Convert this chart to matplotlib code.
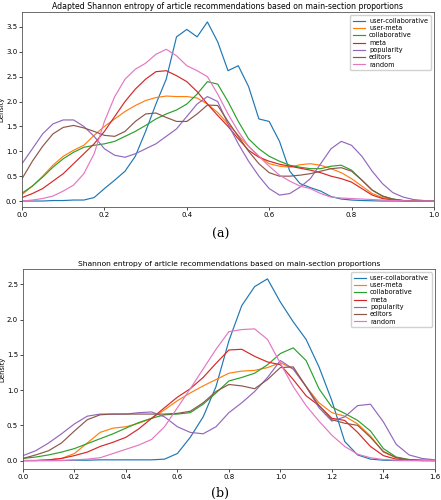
import matplotlib
matplotlib.use("Agg")
import matplotlib.pyplot as plt
import numpy as np

labels = ["user-collaborative", "user-meta", "collaborative", "meta",
          "popularity", "editors", "random"]
colors = ["#1f77b4", "#ff7f0e", "#2ca02c", "#d62728", "#9467bd", "#8c564b", "#e377c2"]

# (a) adapted entropy, x grid step 0.025
x_a = np.round(np.arange(0, 1.0001, 0.025), 3)
user_collab_a = [0.0, 0.0, 0.0, 0.01, 0.01, 0.02, 0.02, 0.07, 0.25, 0.42, 0.6, 0.9, 1.4, 1.95,
                 2.45, 3.3, 3.45, 3.3, 3.6, 3.2, 2.62, 2.72, 2.3, 1.65, 1.6, 1.2, 0.6, 0.35,
                 0.27, 0.2, 0.09, 0.04, 0.02, 0.01, 0.005, 0, 0, 0, 0, 0, 0]
user_meta_a = [0.13, 0.3, 0.5, 0.72, 0.9, 1.02, 1.12, 1.32, 1.5, 1.65, 1.8, 1.92, 2.02, 2.08,
               2.11, 2.1, 2.1, 2.07, 1.95, 1.78, 1.55, 1.32, 1.1, 0.9, 0.75, 0.7, 0.68, 0.73,
               0.75, 0.72, 0.65, 0.57, 0.45, 0.3, 0.15, 0.07, 0.03, 0.01, 0, 0, 0]
collab_a = [0.16, 0.3, 0.48, 0.68, 0.85, 0.98, 1.08, 1.12, 1.15, 1.2, 1.3, 1.4, 1.52, 1.65,
            1.75, 1.83, 1.95, 2.15, 2.4, 2.35, 2.0, 1.6, 1.25, 1.05, 0.9, 0.8, 0.72, 0.68,
            0.65, 0.65, 0.7, 0.72, 0.62, 0.42, 0.22, 0.1, 0.04, 0.01, 0, 0, 0]
meta_a = [0.07, 0.15, 0.25, 0.4, 0.55, 0.75, 0.95, 1.15, 1.4, 1.7, 2.0, 2.25, 2.45, 2.6,
          2.62, 2.52, 2.4, 2.2, 1.95, 1.72, 1.5, 1.25, 1.02, 0.88, 0.8, 0.74, 0.7, 0.66,
          0.62, 0.57, 0.5, 0.45, 0.38, 0.25, 0.12, 0.05, 0.02, 0.005, 0, 0, 0]
popularity_a = [0.75, 1.05, 1.35, 1.55, 1.63, 1.63, 1.5, 1.3, 1.05, 0.92, 0.88, 0.95, 1.05, 1.15,
                1.3, 1.45, 1.7, 1.95, 2.1, 2.0, 1.55, 1.15, 0.8, 0.5, 0.25, 0.12, 0.15, 0.28,
                0.45, 0.75, 1.05, 1.2, 1.12, 0.9, 0.6, 0.35, 0.17, 0.08, 0.03, 0.01, 0.0]
editors_a = [0.45, 0.8, 1.1, 1.35, 1.48, 1.52, 1.47, 1.4, 1.32, 1.3, 1.4, 1.6, 1.75, 1.77,
             1.68, 1.6, 1.6, 1.75, 1.93, 1.92, 1.6, 1.3, 1.0, 0.75, 0.57, 0.5, 0.5, 0.52,
             0.55, 0.6, 0.65, 0.67, 0.6, 0.42, 0.22, 0.1, 0.04, 0.01, 0, 0, 0]
random_a = [0.0, 0.02, 0.05, 0.1, 0.2, 0.32, 0.55, 0.95, 1.6, 2.1, 2.45, 2.65, 2.77, 2.95,
            3.05, 2.92, 2.72, 2.62, 2.5, 2.15, 1.75, 1.4, 1.1, 0.9, 0.7, 0.52, 0.4, 0.3,
            0.25, 0.15, 0.08, 0.06, 0.05, 0.04, 0.03, 0.02, 0.01, 0.005, 0, 0, 0]

# (b) plain entropy, x grid step 0.05
x_b = np.round(np.arange(0, 1.6001, 0.05), 3)
user_collab_b = [0, 0, 0, 0, 0.005, 0.005, 0.01, 0.01, 0.01, 0.01, 0.01, 0.02, 0.1, 0.33,
                 0.62, 1.05, 1.7, 2.2, 2.47, 2.58, 2.25, 1.97, 1.72, 1.33, 0.85, 0.27, 0.08,
                 0.02, 0.005, 0, 0, 0, 0]
user_meta_b = [0.0, 0.0, 0.01, 0.03, 0.1, 0.25, 0.4, 0.46, 0.48, 0.53, 0.6, 0.72, 0.85, 0.96,
               1.06, 1.15, 1.24, 1.27, 1.28, 1.32, 1.39, 1.3, 1.05, 0.82, 0.68, 0.63, 0.52,
               0.35, 0.12, 0.04, 0.01, 0.005, 0]
collab_b = [0.03, 0.05, 0.08, 0.12, 0.17, 0.24, 0.31, 0.38, 0.46, 0.54, 0.6, 0.65, 0.66, 0.68,
            0.8, 0.96, 1.13, 1.18, 1.24, 1.36, 1.52, 1.6, 1.42, 1.02, 0.76, 0.67, 0.57, 0.42,
            0.17, 0.05, 0.015, 0.005, 0]
meta_b = [0.0, 0.0, 0.01, 0.03, 0.07, 0.12, 0.2, 0.26, 0.33, 0.45, 0.6, 0.75, 0.9, 1.02,
          1.18, 1.38, 1.57, 1.58, 1.48, 1.4, 1.36, 1.15, 0.92, 0.78, 0.6, 0.57, 0.4, 0.2,
          0.07, 0.02, 0.005, 0, 0]
popularity_b = [0.07, 0.14, 0.25, 0.38, 0.52, 0.63, 0.66, 0.66, 0.66, 0.68, 0.69, 0.62, 0.48,
                0.4, 0.38, 0.48, 0.68, 0.82, 0.98, 1.18, 1.42, 1.3, 1.05, 0.75, 0.56, 0.62,
                0.78, 0.8, 0.55, 0.23, 0.08, 0.03, 0.01]
editors_b = [0.03, 0.08, 0.14, 0.25, 0.42, 0.58, 0.65, 0.66, 0.66, 0.66, 0.66, 0.66, 0.67,
             0.7, 0.82, 0.98, 1.08, 1.06, 1.02, 1.15, 1.32, 1.33, 1.05, 0.78, 0.58, 0.53,
             0.5, 0.33, 0.13, 0.04, 0.01, 0, 0]
random_b = [0, 0, 0, 0, 0.01, 0.02, 0.04, 0.1, 0.16, 0.22, 0.3, 0.48, 0.75, 1.02, 1.3, 1.58,
            1.83, 1.86, 1.87, 1.72, 1.38, 1.05, 0.78, 0.56, 0.36, 0.2, 0.09, 0.04, 0.015,
            0.005, 0, 0, 0]

series_a = [user_collab_a, user_meta_a, collab_a, meta_a, popularity_a, editors_a, random_a]
series_b = [user_collab_b, user_meta_b, collab_b, meta_b, popularity_b, editors_b, random_b]


def draw(ax, x, series, title, xmax, ymax, yticks, title_size):
    for y, lab, c in zip(series, labels, colors):
        ax.plot(x, y, color=c, lw=0.85, label=lab)
    ax.set_xlim(0, xmax)
    ax.set_ylim(-0.12, ymax)
    ax.set_xticks(np.arange(0, xmax + 0.001, 0.2))
    ax.set_yticks(yticks)
    ax.xaxis.set_major_formatter(matplotlib.ticker.FormatStrFormatter('%.1f'))
    ax.yaxis.set_major_formatter(matplotlib.ticker.FormatStrFormatter('%.1f'))
    ax.tick_params(labelsize=5, length=2, width=0.5, pad=1.5)
    ax.set_ylabel("Density", fontsize=4.8, labelpad=1)
    ax.set_title(title, fontsize=title_size, pad=2)
    for s in ax.spines.values():
        s.set_linewidth(0.6)
        s.set_color("#555555")
    ax.legend(loc="upper right", fontsize=4.7, handlelength=1.9, handletextpad=0.6,
              labelspacing=0.2, borderpad=0.4, framealpha=0.9, edgecolor="#cccccc")


fig = plt.figure(figsize=(4.41, 5.0), dpi=100)
ax1 = fig.add_axes([0.05, 0.586, 0.934, 0.39])
ax2 = fig.add_axes([0.052, 0.062, 0.934, 0.4])

draw(ax1, x_a, series_a,
     "Adapted Shannon entropy of article recommendations based on main-section proportions",
     1.0, 3.8, np.arange(0, 3.51, 0.5), 5.6)
draw(ax2, x_b, series_b,
     "Shannon entropy of article recommendations based on main-section proportions",
     1.6, 2.72, np.arange(0, 2.51, 0.5), 5.4)

fig.text(0.5, 0.532, "(a)", ha="center", va="center", fontsize=9, family="DejaVu Serif")
fig.text(0.5, 0.014, "(b)", ha="center", va="center", fontsize=9, family="DejaVu Serif")

fig.savefig("out.png", dpi=100)
